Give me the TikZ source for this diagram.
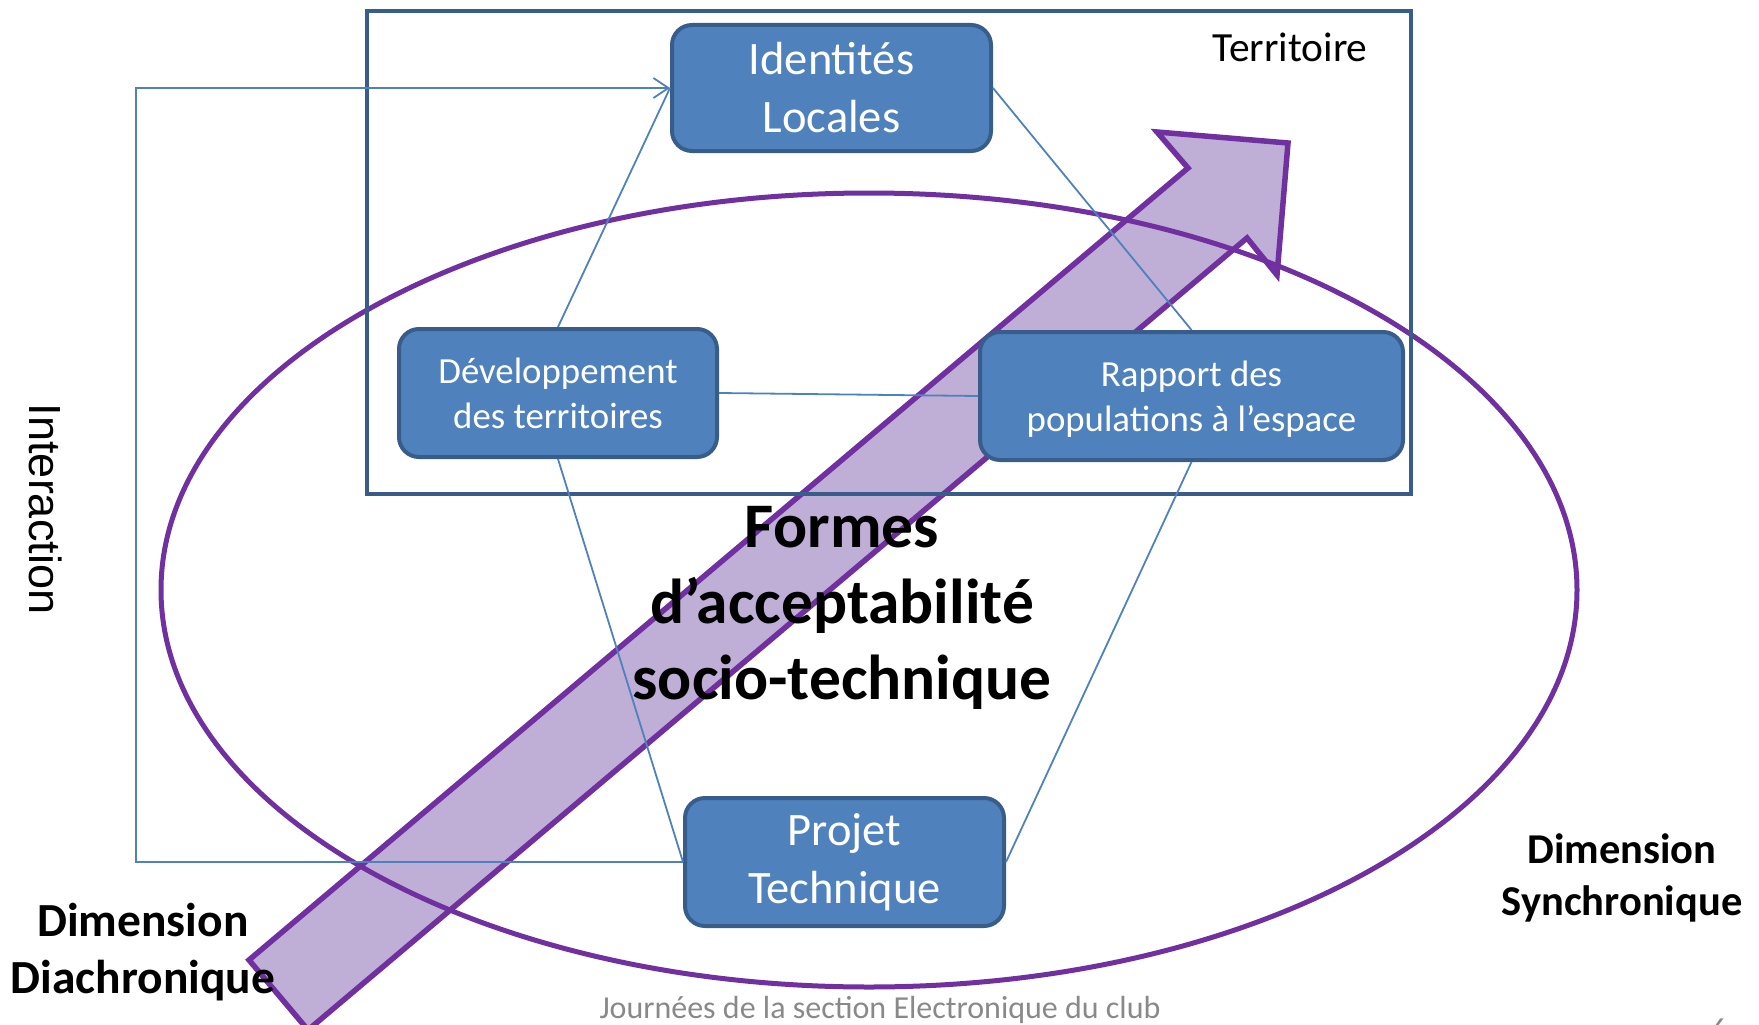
\documentclass[tikz,border=0pt]{standalone}
\usepackage{fontspec}
\setmainfont{Carlito}
\newfontfamily\arialfont{Liberation Sans}
\usetikzlibrary{arrows.meta}
\definecolor{boxfill}{RGB}{79,129,189}
\definecolor{boxline}{RGB}{56,93,138}
\definecolor{purp}{RGB}{112,48,160}
\definecolor{arrowfill}{RGB}{191,174,213}
\definecolor{footgray}{RGB}{137,137,137}
\begin{document}
\begin{tikzpicture}[x=1pt,y=-1pt,
  conceptbox/.style={draw=boxline, line width=4pt, fill=boxfill, rounded corners=20pt,
    text=white, align=center, inner sep=0pt},
  link/.style={draw=boxfill, line width=1.8pt},
  bigfont/.style={font=\fontsize{46.5}{58}\selectfont},
  smallfont/.style={font=\fontsize{36.8}{45}\selectfont},
]
\useasboundingbox (0,0) rectangle (1759,1025);
% big arrow
\draw[draw=purp, fill=arrowfill, line width=5.5pt, line join=miter]
  (249,960) -- (1188,168) -- (1157,132) -- (1288,143) -- (1277,275) -- (1247,238) -- (308,1030) -- cycle;
% ellipse
\draw[purp, line width=5pt] (869,590) ellipse [x radius=708, y radius=397];
% territoire frame
\node[draw=boxline, line width=4pt, minimum width=1044pt, minimum height=483pt, inner sep=0pt] (territory) at (889,252.5) {};
% boxes
\node[conceptbox, bigfont, minimum width=319pt, minimum height=126pt] (ident) at (831.5,88) {Identités\\Locales};
\node[conceptbox, smallfont, minimum width=318pt, minimum height=128pt] (dev) at (558,393) {Développement\\des territoires};
\node[conceptbox, smallfont, minimum width=423pt, minimum height=128pt, text depth=0pt] (rapport) at (1191.5,396) {Rapport des\\populations à l’espace};
\node[conceptbox, bigfont, minimum width=319pt, minimum height=128pt] (projet) at (844.5,862) {Projet\\Technique};
% connectors
\coordinate (ileft) at (136,500);
\draw[link, -{Straight Barb[length=15pt,width=20pt,line width=1.8pt]}] (projet.west) -| (ileft) |- (ident.west);
\draw[link] (ident.west) -- (dev.north);
\draw[link] (ident.east) -- (rapport.north);
\draw[link] (dev.east) -- (rapport.west);
\draw[link] (dev.south) -- (projet.west);
\draw[link] (rapport.south) -- (projet.east);
% texts
\node[font={\bfseries\fontsize{63.5}{76}\selectfont}, align=center] (formes) at (842,608) {Formes\\d’acceptabilité\\socio-technique};
\node[font={\bfseries\fontsize{47.5}{57}\selectfont}, align=center] (diachro) at (143,952) {Dimension\\Diachronique};
\node[font={\bfseries\fontsize{42.5}{52}\selectfont}, align=center] (synchro) at (1622,878) {Dimension\\Synchronique};
\node[font={\fontsize{41.5}{48}\selectfont}, anchor=base] (terr) at (1290,62) {Territoire};
\node[font={\arialfont\fontsize{45}{54}\selectfont}, rotate=-90] (interaction) at (46,509) {Interaction};
\node[font={\fontsize{32}{38}\selectfont}, text=footgray, anchor=base] (footer) at (880,1018) {Journées de la section Electronique du club};
\node[font={\fontsize{32}{38}\selectfont}, text=footgray, anchor=base] (pagenum) at (1719,1040) {6};
\end{tikzpicture}
\end{document}
